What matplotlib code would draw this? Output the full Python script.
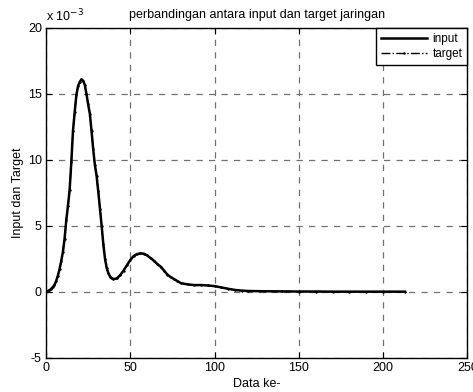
import matplotlib.pyplot as plt

# data (y in units of 1e-3)
data_x = [0, 1, 2, 3, 4, 5, 6, 7, 8, 9, 10, 11, 12, 13, 14, 15, 16, 17, 18, 19,
          20, 21, 22, 23, 24, 25, 26, 27, 28, 29, 30, 31, 32, 33, 34, 35, 36, 37,
          38, 39, 40, 42, 44, 46, 48, 50, 52, 54, 56, 58, 60, 62, 64, 66, 68, 70,
          72, 74, 76, 78, 80, 84, 88, 92, 96, 100, 104, 108, 112, 116, 120, 130,
          140, 150, 160, 170, 180, 190, 200, 213]
input_y = [0, 0.05, 0.1, 0.2, 0.35, 0.5, 0.8, 1.2, 1.7, 2.3, 3.0, 4.0, 5.4, 6.5,
           7.7, 9.8, 12.2, 13.6, 14.9, 15.6, 15.9, 16.1, 16.0, 15.7, 15.0, 14.2,
           13.5, 12.2, 10.8, 9.6, 8.8, 7.6, 6.3, 5.0, 3.6, 2.5, 1.8, 1.4, 1.15,
           1.0, 0.95, 1.0, 1.25, 1.6, 2.0, 2.4, 2.7, 2.85, 2.9, 2.88, 2.75, 2.55,
           2.35, 2.1, 1.9, 1.6, 1.3, 1.1, 0.95, 0.8, 0.65, 0.55, 0.5, 0.5, 0.47,
           0.42, 0.32, 0.22, 0.13, 0.08, 0.05, 0.03, 0.02, 0.01, 0.01, 0.0, 0.0,
           0.0, 0.0, 0.0]
target_y = list(input_y)

xticks = [0, 50, 100, 150, 200, 250]
yticks = [-5, 0, 5, 10, 15, 20]

plt.rcParams['font.family'] = ['Liberation Sans', 'DejaVu Sans']
plt.rcParams['font.size'] = 9
plt.rcParams['axes.unicode_minus'] = False

fig = plt.figure(figsize=(4.73, 3.92), dpi=100)
ax = fig.add_axes([0.0973, 0.0878, 0.8907, 0.8408])

ax.plot(data_x, input_y, color='black', linewidth=1.8, label='input')
ax.plot(data_x, target_y, color='black', linestyle='-.', marker='.', markersize=1.5,
        linewidth=1.0, label='target')

ax.set_xlim(0, 250)
ax.set_ylim(-5, 20)
ax.set_xticks(xticks)
ax.set_yticks(yticks)
ax.tick_params(direction='in', top=True, right=True, length=4, width=0.8, pad=3,
               labelsize=9)
ax.grid(True, color='#707070', linestyle=(0, (5, 5)), linewidth=0.9)
for s in ax.spines.values():
    s.set_linewidth(1.0)

ax.set_title('perbandingan antara input dan target jaringan', fontsize=9, pad=7)
ax.set_xlabel('Data ke-', labelpad=3)
ax.set_ylabel('Input dan Target', labelpad=3)
ax.text(0.0, 1.01, r'x 10$^{-3}$', transform=ax.transAxes, ha='left', va='bottom')

leg = ax.legend(loc='upper right', borderaxespad=0, fancybox=False, edgecolor='black',
                framealpha=1, handlelength=3.9, fontsize=8.5, labelspacing=0.3,
                borderpad=0.4, handletextpad=0.5)
leg.get_frame().set_linewidth(1.0)

fig.savefig('out.png', dpi=100)
